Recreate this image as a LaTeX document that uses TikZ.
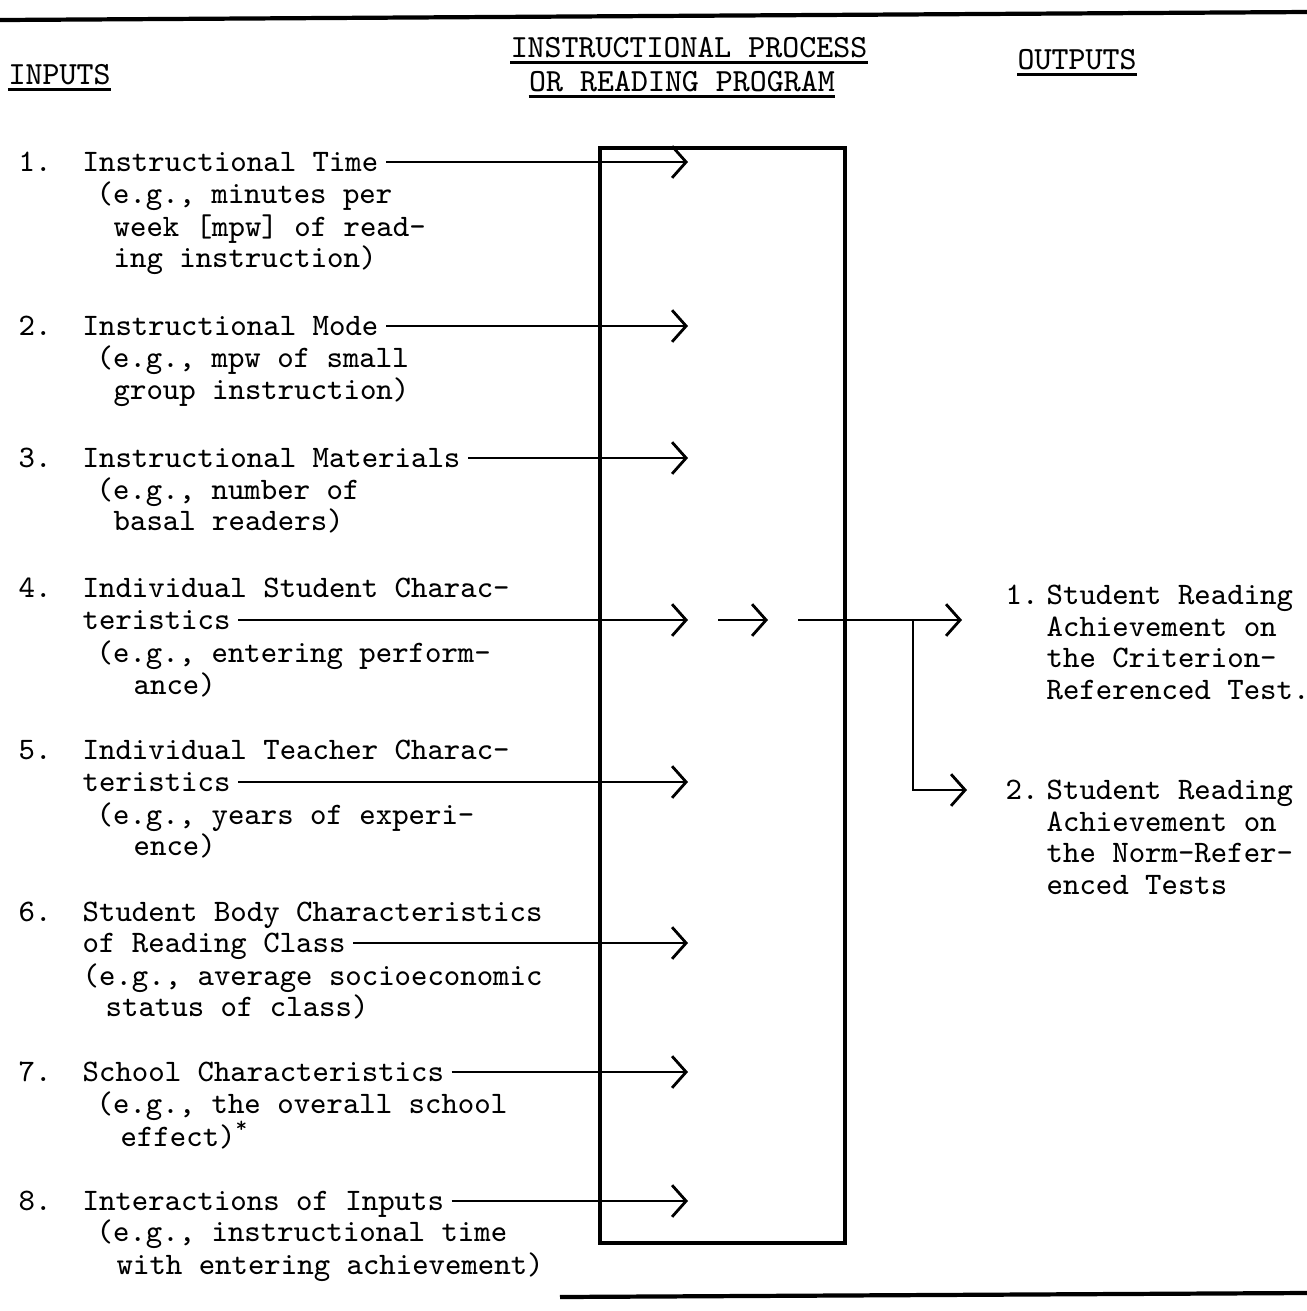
\documentclass[tikz,border=0pt]{standalone}
\usetikzlibrary{arrows.meta}

\tikzset{
  renglon/.style={font=\ttfamily\fontsize{8.9}{9.1}\selectfont, inner sep=0pt, anchor=west, text height=1.6ex, text depth=0.4ex},
  titulo/.style={renglon, font=\ttfamily\fontsize{9.2}{10}\selectfont},
  flecha/.style={line width=0.8pt, shorten <=2pt, -{Straight Barb[length=4pt,width=9pt]}},
  subraya/.style={line width=0.9pt},
  regla/.style={line width=1.2pt}
}

\begin{document}
\begin{tikzpicture}[x=0.1mm,y=-0.1mm]
        \useasboundingbox (0,0) rectangle (1307,1311);

        % Reglas
        \draw[regla] (0,20) -- (1307,12);
        \draw[regla] (560,1297) -- (1307,1293);

        % Encabezados
        \node[titulo] (hin) at (8,75) {INPUTS};
        \node[titulo, anchor=center] (hpa) at (689,48) {INSTRUCTIONAL PROCESS};
        \node[titulo, anchor=center] (hpb) at (682,82) {OR READING PROGRAM};
        \node[titulo] (hout) at (1017,60) {OUTPUTS};
        \draw[subraya] ([yshift=-1.5pt]hin.base west) -- ([yshift=-1.5pt]hin.base east);
        \draw[subraya] ([yshift=-1.5pt]hpa.base west) -- ([yshift=-1.5pt]hpa.base east);
        \draw[subraya] ([yshift=-1.5pt]hpb.base west) -- ([yshift=-1.5pt]hpb.base east);
        \draw[subraya] ([yshift=-1.5pt]hout.base west) -- ([yshift=-1.5pt]hout.base east);

        % Caja del proceso
        \node[draw, line width=0.9pt, minimum width=2.45cm, minimum height=10.95cm, inner sep=0pt] (caja) at (722.5,695.5) {};
        \coordinate (p) at (688,0);

        % Entradas
        \node[renglon] (n1) at (18,162) {1.};
        \node[renglon] (e1) at (82,162) {Instructional Time};
        \node[renglon] (e1a) at (96,194) {(e.g., minutes per};
        \node[renglon] (e1b) at (113,227) {week [mpw] of read-};
        \node[renglon] (e1c) at (113,258) {ing instruction)};

        \node[renglon] (n2) at (18,326) {2.};
        \node[renglon] (e2) at (82,326) {Instructional Mode};
        \node[renglon] (e2a) at (96,358) {(e.g., mpw of small};
        \node[renglon] (e2b) at (113,390) {group instruction)};

        \node[renglon] (n3) at (18,458) {3.};
        \node[renglon] (e3) at (82,458) {Instructional Materials};
        \node[renglon] (e3a) at (96,490) {(e.g., number of};
        \node[renglon] (e3b) at (113,521) {basal readers)};

        \node[renglon] (n4) at (18,588) {4.};
        \node[renglon] (e4a) at (82,588) {Individual Student Charac-};
        \node[renglon] (e4) at (82,620) {teristics};
        \node[renglon] (e4b) at (96,653) {(e.g., entering perform-};
        \node[renglon] (e4c) at (133,685) {ance)};

        \node[renglon] (n5) at (18,750) {5.};
        \node[renglon] (e5a) at (82,750) {Individual Teacher Charac-};
        \node[renglon] (e5) at (82,782) {teristics};
        \node[renglon] (e5b) at (96,815) {(e.g., years of experi-};
        \node[renglon] (e5c) at (133,846) {ence)};

        \node[renglon] (n6) at (18,912) {6.};
        \node[renglon] (e6a) at (82,912) {Student Body Characteristics};
        \node[renglon] (e6) at (82,943) {of Reading Class};
        \node[renglon] (e6b) at (82,976) {(e.g., average socioeconomic};
        \node[renglon] (e6c) at (105,1007) {status of class)};

        \node[renglon] (n7) at (18,1072) {7.};
        \node[renglon] (e7) at (82,1072) {School Characteristics};
        \node[renglon] (e7a) at (96,1104) {(e.g., the overall school};
        \node[renglon] (e7b) at (120,1137) {effect)\textsuperscript{*}};

        \node[renglon] (n8) at (18,1201) {8.};
        \node[renglon] (e8) at (82,1201) {Interactions of Inputs};
        \node[renglon] (e8a) at (96,1232) {(e.g., instructional time};
        \node[renglon] (e8b) at (116,1265) {with entering achievement)};

        % Flechas de entrada
        \draw[flecha] (e1) -- (e1 -| p);
        \draw[flecha] (e2) -- (e2 -| p);
        \draw[flecha] (e3) -- (e3 -| p);
        \draw[flecha] (e4) -- (e4 -| p);
        \draw[flecha] (e5) -- (e5 -| p);
        \draw[flecha] (e6) -- (e6 -| p);
        \draw[flecha] (e7) -- (e7 -| p);
        \draw[flecha] (e8) -- (e8 -| p);

        % Salidas
        \node[renglon] (s1n) at (1005,595) {1.};
        \node[renglon] (s1a) at (1046,595) {Student Reading};
        \node[renglon] (s1b) at (1046,627) {Achievement on};
        \node[renglon] (s1c) at (1046,658) {the Criterion-};
        \node[renglon] (s1d) at (1046,690) {Referenced Test.};

        \node[renglon] (s2n) at (1005,790) {2.};
        \node[renglon] (s2a) at (1046,790) {Student Reading};
        \node[renglon] (s2b) at (1046,822) {Achievement on};
        \node[renglon] (s2c) at (1046,853) {the Norm-Refer-};
        \node[renglon] (s2d) at (1046,885) {enced Tests};

        % Flechas de salida
        \coordinate (m1) at (718,620);
        \coordinate (m2) at (768,620);
        \coordinate (o1) at (798,620);
        \coordinate (r) at (913,620);
        \coordinate (q1) at (962,620);
        \coordinate (q2) at (967,790);
        \draw[flecha, shorten <=0pt] (m1) -- (m2);
        \draw[flecha, shorten <=0pt] (o1) -- (q1);
        \draw[flecha, shorten <=0pt] (r) |- (q2);
    \end{tikzpicture}
\end{document}
